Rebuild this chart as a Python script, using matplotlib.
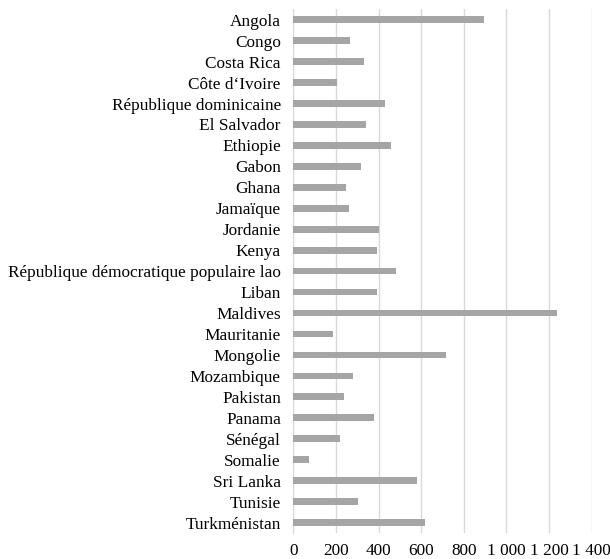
import matplotlib
matplotlib.use("Agg")
import matplotlib.pyplot as plt
import numpy as np

pays = ["Angola", "Congo", "Costa Rica", "Côte d\u2018Ivoire", "République dominicaine",
        "El Salvador", "Ethiopie", "Gabon", "Ghana", "Jamaïque", "Jordanie", "Kenya",
        "République démocratique populaire lao", "Liban", "Maldives", "Mauritanie",
        "Mongolie", "Mozambique", "Pakistan", "Panama", "Sénégal", "Somalie",
        "Sri Lanka", "Tunisie", "Turkménistan"]
valeurs = [895, 266, 333, 205, 432, 339, 457, 319, 246, 260, 400, 391,
           483, 391, 1237, 188, 715, 280, 239, 379, 221, 75, 582, 305, 616]
graduations = [0, 200, 400, 600, 800, 1000, 1200, 1400]
etiquettes = ["0", "200", "400", "600", "800", "1 000", "1 200", "1 400"]

plt.rcParams["font.family"] = ["Liberation Serif", "DejaVu Serif"]
plt.rcParams["font.size"] = 12.4

fig = plt.figure(figsize=(6.1, 5.59), dpi=100)
ax = fig.add_axes([0.4809, 0.0465, 0.970 - 0.4809, 0.9834 - 0.0465])

y = np.arange(len(pays))
ax.barh(y, valeurs, height=0.32, color="#a5a5a5", zorder=3)

ax.set_ylim(len(pays) - 0.5, -0.5)
ax.set_xlim(0, 1400)
ax.set_yticks(y)
ax.set_yticklabels(pays)
ax.set_xticks(graduations)
ax.set_xticklabels(etiquettes)

ax.grid(axis="x", color="#d9d9d9", linewidth=1, zorder=0)
for s in ["top", "right", "bottom"]:
    ax.spines[s].set_visible(False)
ax.spines["left"].set_color("#d9d9d9")
ax.tick_params(axis="y", length=0, pad=9)
ax.tick_params(axis="x", length=0, pad=7)

fig.savefig("out.png", dpi=100)
